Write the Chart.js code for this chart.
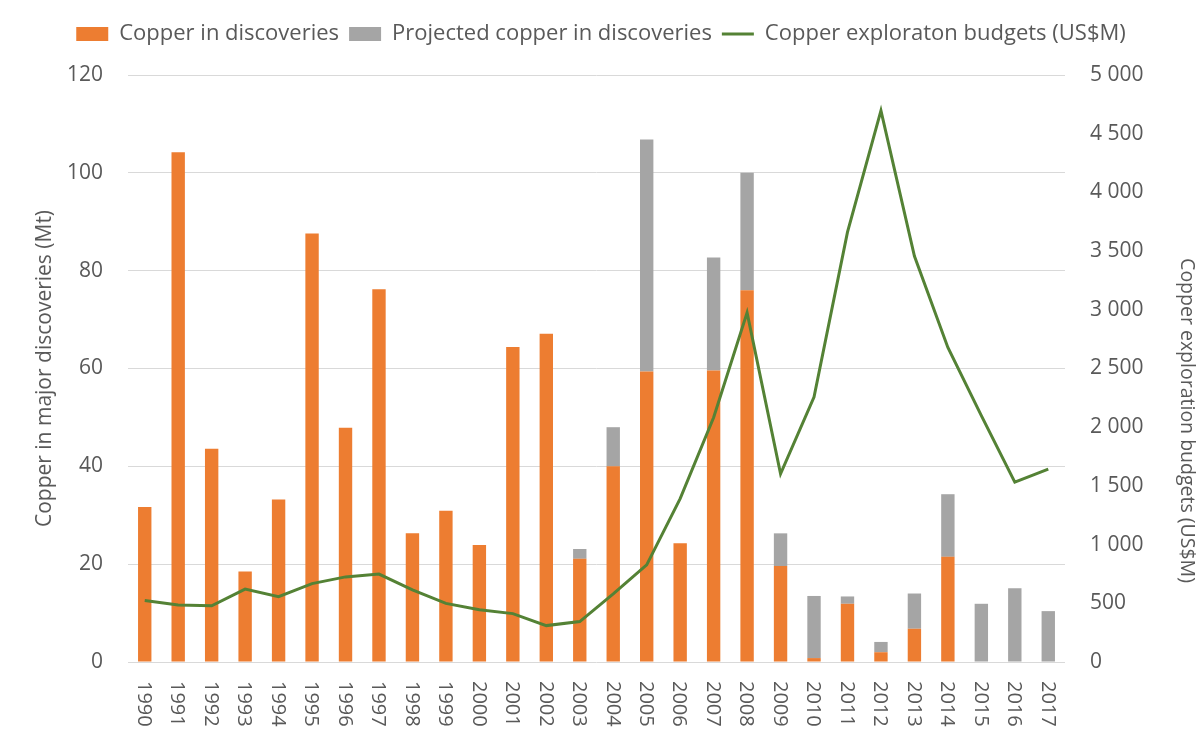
<!DOCTYPE html>
<html>
<head>
<meta charset="utf-8">
<script src="https://cdn.jsdelivr.net/npm/chart.js@4.4.1/dist/chart.umd.min.js"></script>
<style>
  html, body { margin: 0; padding: 0; background: #fff; }
  #wrap { width: 1202px; height: 735px; position: relative; }
</style>
</head>
<body>
<div id="wrap"><canvas id="copperChart"></canvas></div>
<script>
const years = ["1990","1991","1992","1993","1994","1995","1996","1997","1998","1999","2000","2001","2002","2003",
  "2004","2005","2006","2007","2008","2009","2010","2011","2012","2013","2014","2015","2016","2017"];

// Mt of copper in discoveries
const copperFound = [31.7,104.2,43.6,18.5,33.2,87.6,47.9,76.2,26.3,30.9,23.9,64.4,67.1,21.1,
  40.0,59.4,24.3,59.6,76.0,19.6,0.8,11.9,2.0,6.8,21.5,0,0,0];

// projected part, stacked on top
const copperProjected = [0,0,0,0,0,0,0,0,0,0,0,0,0,2.0,
  8.0,47.4,0,23.1,24.0,6.7,12.7,1.5,2.1,7.2,12.8,11.9,15.1,10.4];

// US$M
const budgets = [523,486,479,621,557,668,725,749,614,499,445,412,310,344,
  580,827,1391,2082,2976,1603,2257,3661,4697,3458,2679,2099,1532,1643];

const leftTicks = [0,20,40,60,80,100,120];
const rightTicks = [0,500,1000,1500,2000,2500,3000,3500,4000,4500,5000];

const rightTitle = 'Copper exploration budgets (US$M)';

const FONT = "'Open Sans', 'Noto Sans', sans-serif";
const TEXT = '#595959';

function spaced(v){
  return v.toString().replace(/\B(?=(\d{3})+(?!\d))/g, ' ');
}

// rotated year labels reading top to bottom, plus the right axis title
const sideText = {
  id: 'sideText',
  afterDraw(chart){
    const ctx = chart.ctx;
    const xs = chart.scales.x;
    ctx.save();
    ctx.fillStyle = TEXT;
    ctx.font = "20px " + FONT;
    ctx.textAlign = 'left';
    ctx.textBaseline = 'middle';
    years.forEach((y, i) => {
      const px = xs.getPixelForValue(i);
      ctx.save();
      ctx.translate(px - 1, xs.top + 19);
      ctx.rotate(Math.PI / 2);
      ctx.fillText(y, 0, 0);
      ctx.restore();
    });

    // excel put this one a bit below the middle of the axis
    const y1 = chart.scales.y1;
    ctx.font = "19.5px " + FONT;
    ctx.textAlign = 'center';
    ctx.translate(y1.right - 15, (y1.top + y1.bottom) / 2 + 52);
    ctx.rotate(Math.PI / 2);
    ctx.fillText(rightTitle, 0, 0);
    ctx.restore();
  }
};

const legendGap = {
  id: 'legendGap',
  beforeInit(chart){
    const fit = chart.legend.fit;
    chart.legend.fit = function(){
      fit.bind(chart.legend)();
      this.height += 20;
    };
  }
};

new Chart(document.getElementById('copperChart'), {
  type: 'bar',
  data: {
    labels: years,
    datasets: [
      {
        label: 'Copper in discoveries',
        data: copperFound,
        backgroundColor: '#ED7D31',
        stack: 'cu',
        yAxisID: 'y',
        order: 1,
        pointStyle: 'rect',
        barPercentage: 0.4,
        categoryPercentage: 1
      },
      {
        label: 'Projected copper in discoveries',
        data: copperProjected,
        backgroundColor: '#A5A5A5',
        stack: 'cu',
        yAxisID: 'y',
        order: 1,
        pointStyle: 'rect',
        barPercentage: 0.4,
        categoryPercentage: 1
      },
      {
        type: 'line',
        label: 'Copper exploraton budgets (US$M)',
        data: budgets,
        borderColor: '#548235',
        backgroundColor: '#548235',
        borderWidth: 3,
        pointRadius: 0,
        tension: 0,
        yAxisID: 'y1',
        order: 0,
        pointStyle: 'line'
      }
    ]
  },
  options: {
    responsive: true,
    maintainAspectRatio: false,
    animation: false,
    layout: { padding: { top: 13, left: 0, right: 0, bottom: 0 } },
    plugins: {
      tooltip: { enabled: false },
      legend: {
        position: 'top',
        labels: {
          usePointStyle: true,
          pointStyleWidth: 32,
          boxHeight: 14,
          padding: 10,
          color: TEXT,
          font: { family: FONT, size: 22 },
          sort: (a, b) => a.datasetIndex - b.datasetIndex
        }
      }
    },
    scales: {
      x: {
        stacked: true,
        grid: { display: false },
        border: { display: false },
        ticks: { display: false },
        afterFit(scale){ scale.height = 73; }
      },
      y: {
        position: 'left',
        stacked: true,
        min: 0,
        max: 120,
        afterBuildTicks(scale){ scale.ticks = leftTicks.map(v => ({ value: v })); },
        grid: { color: '#D9D9D9', lineWidth: 1, drawTicks: false },
        border: { display: false },
        ticks: {
          color: TEXT,
          padding: 25,
          font: { family: FONT, size: 21 }
        },
        title: {
          display: true,
          text: 'Copper in major discoveries (Mt)',
          color: TEXT,
          font: { family: FONT, size: 21 },
          padding: { top: 32, bottom: 0 }
        },
        afterFit(scale){ scale.width = 128; }
      },
      y1: {
        position: 'right',
        min: 0,
        max: 5000,
        afterBuildTicks(scale){ scale.ticks = rightTicks.map(v => ({ value: v })); },
        grid: { display: false, drawTicks: false },
        border: { display: false },
        ticks: {
          color: TEXT,
          padding: 25,
          font: { family: FONT, size: 21 },
          callback: (v) => spaced(v)
        },
        afterFit(scale){ scale.width = 137; }
      }
    }
  },
  plugins: [sideText, legendGap]
});
</script>
</body>
</html>
